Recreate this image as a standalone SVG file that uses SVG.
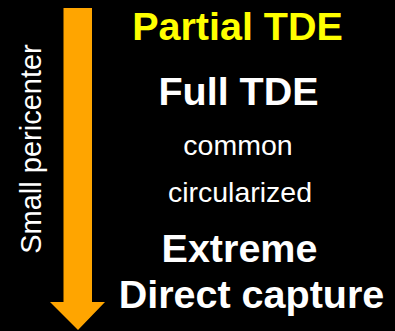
<svg xmlns="http://www.w3.org/2000/svg" width="395" height="331" viewBox="0 0 395 331">
<style>
text{font-family:"Liberation Sans",Arial,sans-serif;text-anchor:middle}
.b{font-weight:bold;font-size:39.5px;fill:#fff}
.n{font-size:28.5px;fill:#fff}
</style>
<rect width="395" height="331" fill="#000"/>
<g id="arrow">
<polygon points="63.5,8 92,8 92,302 105,302 78,330 50,302 63.5,302" fill="#FFA500"/>
</g>
<g id="axis-label">
<text transform="translate(40.5,149) rotate(-90)" x="0" y="0" font-size="29" fill="#fff">Small pericenter</text>
</g>
<g id="partial"><text class="b" x="237.5" y="40" style="fill:#FFFF00">Partial TDE</text></g>
<g id="full"><text class="b" x="238.5" y="105">Full TDE</text></g>
<g id="common"><text class="n" x="238" y="155">common</text></g>
<g id="circ"><text class="n" x="240" y="202">circularized</text></g>
<g id="extreme"><text class="b" x="239.5" y="262">Extreme</text></g>
<g id="direct"><text class="b" x="251.5" y="308">Direct capture</text></g>
</svg>
